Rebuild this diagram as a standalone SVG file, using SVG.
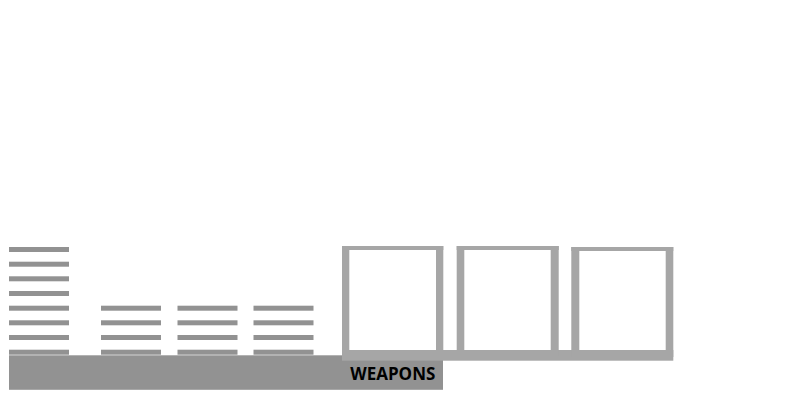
<svg xmlns="http://www.w3.org/2000/svg" width="800" height="400" viewBox="0 0 800 400">
<style>
.bar{fill:#929292}
.base{fill:#929292}
.box{fill:#a6a6a6}
.label{font-family:"Open Sans","Liberation Sans",sans-serif;font-weight:bold;font-size:17px;fill:#000}
</style>
<defs>
<g id="stack4">
<rect class="bar" x="0" y="305.7" width="60" height="5"/>
<rect class="bar" x="0" y="320.3" width="60" height="5"/>
<rect class="bar" x="0" y="335" width="60" height="5"/>
<rect class="bar" x="0" y="349.7" width="60" height="5"/>
</g>
</defs>
<rect width="800" height="400" fill="#fff"/>
<g id="stack-tall">
<rect class="bar" x="9" y="247" width="60" height="5"/>
<rect class="bar" x="9" y="261.7" width="60" height="5"/>
<rect class="bar" x="9" y="276.3" width="60" height="5"/>
<rect class="bar" x="9" y="291" width="60" height="5"/>
<use href="#stack4" x="9"/>
</g>
<g id="stack-2"><use href="#stack4" x="101"/></g>
<g id="stack-3"><use href="#stack4" x="177.5"/></g>
<g id="stack-4"><use href="#stack4" x="253.5"/></g>
<g id="base">
<rect class="base" x="9" y="355.3" width="434" height="34.5"/>
</g>
<g id="boxes">
<rect class="box" x="342" y="350" width="331.3" height="10.7"/>
<g id="box-1">
<rect class="box" x="342" y="246" width="101.3" height="4"/>
<rect class="box" x="342" y="246" width="7.3" height="110"/>
<rect class="box" x="436" y="246" width="7.3" height="110"/>
</g>
<g id="box-2">
<rect class="box" x="456.7" y="246" width="102" height="4"/>
<rect class="box" x="456.7" y="246" width="7.6" height="110"/>
<rect class="box" x="550.7" y="246" width="8" height="110"/>
</g>
<g id="box-3">
<rect class="box" x="571.3" y="247" width="102" height="4"/>
<rect class="box" x="571.3" y="247" width="8" height="110"/>
<rect class="box" x="665.7" y="247" width="7.6" height="110"/>
</g>
</g>
<g id="label">
<text class="label" x="392.8" y="379.5" text-anchor="middle">WEAPONS</text>
</g>
</svg>
